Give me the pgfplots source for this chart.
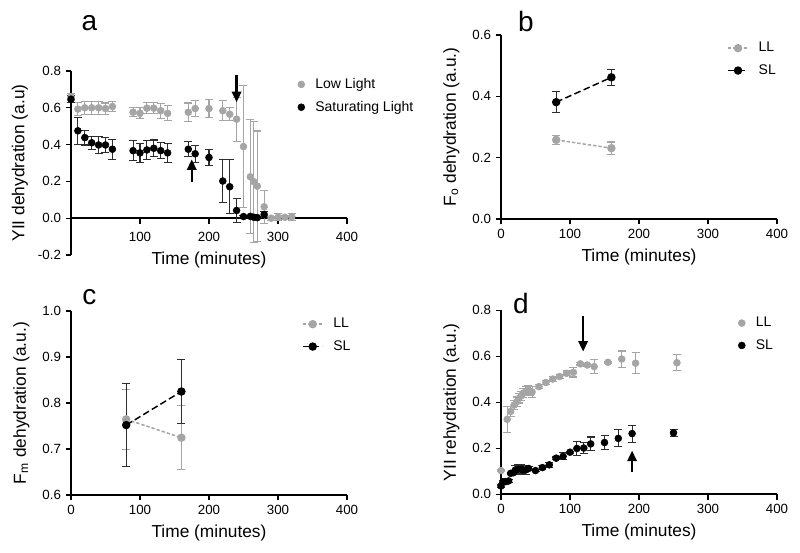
\documentclass[border=0pt]{standalone}
\usepackage{fontspec}
\setmainfont{Liberation Sans}
\usepackage{pgfplots}
\usepackage{pgfplotstable}
\pgfplotsset{compat=1.18}
\usetikzlibrary{arrows.meta}
\definecolor{llgray}{RGB}{165,165,165}
\definecolor{slbar}{RGB}{45,45,45}

\pgfplotstableread{
x y e
0 0.660 0.02
10 0.593 0.035
20 0.600 0.035
30 0.600 0.035
40 0.600 0.035
50 0.596 0.030
60 0.607 0.025
90 0.576 0.025
100 0.570 0.030
110 0.598 0.030
120 0.598 0.030
130 0.584 0.040
140 0.570 0.040
170 0.576 0.050
180 0.596 0.045
200 0.596 0.050
220 0.584 0.055
230 0.565 0.035
240 0.538 0.120
250 0.389 0.330
260 0.225 0.310
265 0.198 0.330
270 0.174 0.300
280 0.062 0.090
290 0.000 0.010
300 0.005 0.020
310 0.005 0.010
320 0.008 0.020
}\aLL
\pgfplotstableread{
x y e
0 0.647 0.020
10 0.475 0.073
20 0.438 0.040
30 0.410 0.035
40 0.398 0.045
50 0.398 0.040
60 0.375 0.055
90 0.367 0.055
100 0.355 0.050
110 0.371 0.050
120 0.380 0.045
130 0.367 0.045
140 0.355 0.050
170 0.375 0.040
180 0.350 0.045
200 0.330 0.045
220 0.202 0.115
230 0.171 0.146
240 0.042 0.065
250 0.009 0.005
260 0.010 0.005
265 0.005 0.005
270 0.003 0.005
280 0.020 0.015
}\aSL
\pgfplotstableread{
x y e
80 0.258 0.014
160 0.231 0.020
}\bLL
\pgfplotstableread{
x y e
80 0.381 0.035
160 0.462 0.026
}\bSL
\pgfplotstableread{
x y e
80 0.7645 0.065
160 0.7246 0.069
}\cLL
\pgfplotstableread{
x y e
80 0.752 0.090
160 0.825 0.069
}\cSL
\pgfplotstableread{
x y e
0 0.103 0.005
9 0.326 0.057
14 0.360 0.020
19 0.388 0.020
23 0.403 0.020
26 0.417 0.020
29 0.428 0.020
32 0.439 0.020
36 0.449 0.020
39 0.454 0.020
42 0.449 0.020
45 0.445 0.025
55 0.468 0.010
65 0.486 0.010
75 0.501 0.010
85 0.512 0.010
95 0.526 0.010
105 0.530 0.020
115 0.567 0.005
125 0.562 0.005
135 0.555 0.030
155 0.574 0.005
175 0.588 0.035
195 0.570 0.045
255 0.572 0.035
}\dLL
\pgfplotstableread{
x y e
0 0.036 0.005
3 0.055 0.005
7 0.055 0.005
11 0.058 0.005
14 0.091 0.005
18 0.094 0.010
21 0.106 0.020
25 0.109 0.020
29 0.109 0.020
32 0.106 0.020
36 0.106 0.020
40 0.112 0.010
50 0.103 0.005
60 0.116 0.010
70 0.128 0.010
80 0.157 0.005
90 0.165 0.015
100 0.183 0.005
110 0.199 0.030
120 0.201 0.025
130 0.219 0.030
150 0.225 0.030
170 0.243 0.037
190 0.264 0.037
250 0.267 0.015
}\dSL

\pgfplotsset{
  panel/.style={
    scale only axis, width=207pt, height=138pt,
    axis y line*=left, axis x line*=bottom,
    tick align=outside,
    major tick length=4pt,
    every tick/.style={black, line width=1pt},
    axis line style={line width=1.2pt, black},
    xmin=0, xmax=400,
    /pgf/number format/assume math mode=true,
    tick label style={font=\fontsize{10}{12}\selectfont},
    yticklabel style={/pgf/number format/fixed, /pgf/number format/fixed zerofill, /pgf/number format/precision=1},
    label style={font=\fontsize{13}{15}\selectfont},
    xlabel={Time (minutes)},
    xlabel style={at={(axis description cs:0.5,-0.205)}, anchor=center},
    ylabel style={at={(axis description cs:-0.18,0.5)}, anchor=center},
    clip=false,
    legend style={draw=none, fill=none, font=\fontsize{10.5}{12}\selectfont, inner sep=0pt, row sep=4pt},
    legend cell align=left,
  },
  ebar/.style={error bars/.cd, y dir=both, y explicit,
    error bar style={#1, solid, line width=0.8pt},
    error mark=-,
    error mark options={#1, solid, line width=0.8pt, mark size=3pt, rotate=90}},
  lin/.style={legend image code/.code={\draw[mark repeat=2, mark phase=2, ##1] plot coordinates {(0pt,0pt) (7.5pt,0pt) (15pt,0pt)}; \path[draw=none, fill=none] (0pt,0pt) -- (21pt,0pt);}},
  pts/.style={legend image code/.code={\path[draw=none, fill=none] (-3pt,0pt) -- (8.5pt,0pt); \draw[##1] plot coordinates {(0pt,0pt)};}},
}

\begin{document}
\begin{tikzpicture}
\path[use as bounding box] (0pt,0pt) rectangle (600pt,-414.75pt);

% ---------------- a
\begin{axis}[panel, at={(53.25pt,-191.25pt)}, anchor=south west,
  axis x line*=middle,
  ymin=-0.2, ymax=0.8, ytick={-0.2,0,0.2,0.4,0.6,0.8},
  xtick={100,200,300,400},
  xticklabel style={yshift=-3pt},
  ylabel={YII dehydration (a.u)},
  xlabel style={at={(axis description cs:0.5,-0.025)}, anchor=center},
  ylabel style={at={(axis description cs:-0.185,0.5)}},
  legend style={at={(rel axis cs:0.819,0.976)}, anchor=north west},
  pts]
\addplot[only marks, mark=*, mark size=2.6pt, color=llgray, ebar=llgray] table[x=x, y=y, y error=e] {\aLL};
\addlegendentry{Low Light}
\addplot[only marks, mark=*, mark size=2.6pt, color=black, ebar=slbar] table[x=x, y=y, y error=e] {\aSL};
\addlegendentry{Saturating Light}
\draw[line width=1.8pt, -{Triangle[length=8pt, width=7pt]}] (axis cs:240,0.78) -- (axis cs:240,0.63);
\draw[line width=1.8pt, -{Triangle[length=8pt, width=7pt]}] (axis cs:175,0.195) -- (axis cs:175,0.32);
\end{axis}

% ---------------- b
\begin{axis}[panel, at={(375.75pt,-164.25pt)}, anchor=south west,
  ymin=0, ymax=0.6, ytick={0,0.2,0.4,0.6},
  xtick={0,100,200,300,400},
  ylabel={F\textsubscript{o} dehydration (a.u.)},
  legend style={at={(rel axis cs:0.819,0.976)}, anchor=north west},
  lin]
\addplot[color=llgray, line width=1.1pt, dash pattern=on 2.5pt off 1.5pt, mark=*, mark size=2.6pt, mark options={solid}, ebar=llgray] table[x=x, y=y, y error=e] {\bLL};
\addlegendentry{LL}
\addplot[color=black, line width=1.1pt, dash pattern=on 5pt off 2.5pt, mark=*, mark size=2.6pt, mark options={solid}, ebar=slbar] table[x=x, y=y, y error=e] {\bSL};
\addlegendentry{SL}
\end{axis}

% ---------------- c
\begin{axis}[panel, at={(53.25pt,-371.25pt)}, anchor=south west,
  ymin=0.6, ymax=1.0, ytick={0.6,0.7,0.8,0.9,1.0},
  xtick={0,100,200,300,400},
  ylabel={F\textsubscript{m} dehydration (a.u.)},
  legend style={at={(rel axis cs:0.836,0.976)}, anchor=north west},
  lin]
\addplot[color=llgray, line width=1.1pt, dash pattern=on 2.5pt off 1.5pt, mark=*, mark size=2.6pt, mark options={solid}, ebar=llgray] table[x=x, y=y, y error=e] {\cLL};
\addlegendentry{LL}
\addplot[color=black, line width=1.1pt, dash pattern=on 5pt off 2.5pt, mark=*, mark size=2.6pt, mark options={solid}, ebar=slbar] table[x=x, y=y, y error=e] {\cSL};
\addlegendentry{SL}
\end{axis}

% ---------------- d
\begin{axis}[panel, at={(375.75pt,-370.7pt)}, anchor=south west,
  ymin=0, ymax=0.8, ytick={0,0.2,0.4,0.6,0.8},
  xtick={0,100,200,300,400},
  ylabel={YII rehydration (a.u.)},
  legend style={at={(rel axis cs:0.857,0.978)}, anchor=north west},
  pts]
\addplot[only marks, mark=*, mark size=2.6pt, color=llgray, ebar=llgray] table[x=x, y=y, y error=e] {\dLL};
\addlegendentry{LL}
\addplot[only marks, mark=*, mark size=2.6pt, color=black, ebar=slbar] table[x=x, y=y, y error=e] {\dSL};
\addlegendentry{SL}
\draw[line width=1.8pt, -{Triangle[length=8pt, width=7pt]}] (axis cs:119,0.775) -- (axis cs:119,0.62);
\draw[line width=1.8pt, -{Triangle[length=8pt, width=7pt]}] (axis cs:190,0.095) -- (axis cs:190,0.19);
\end{axis}

\node[font=\fontsize{21}{21}\selectfont] at (67.1pt,-17.6pt) {a};
\node[font=\fontsize{21}{21}\selectfont] at (394.5pt,-15.75pt) {b};
\node[font=\fontsize{21}{21}\selectfont] at (67.1pt,-222.75pt) {c};
\node[font=\fontsize{21}{21}\selectfont] at (390.75pt,-227.25pt) {d};
\end{tikzpicture}
\end{document}
